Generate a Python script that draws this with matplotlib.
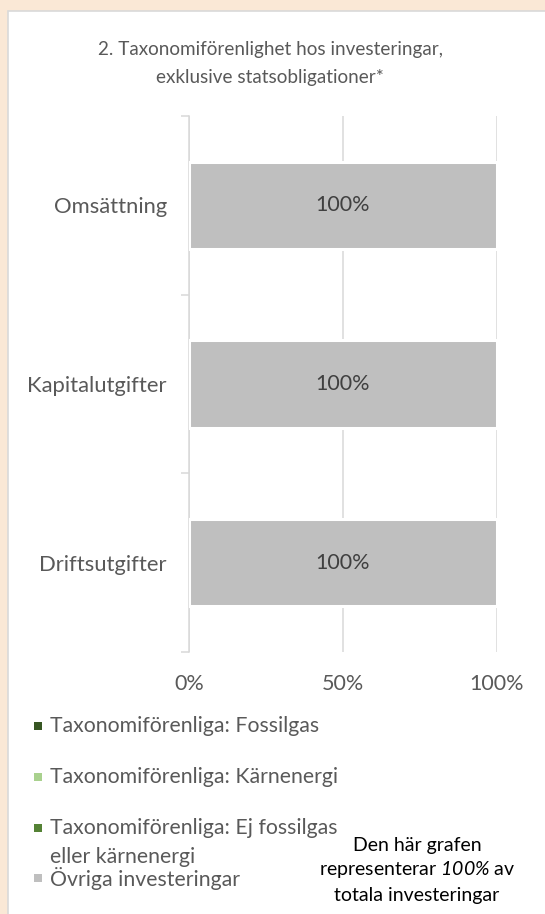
import matplotlib

matplotlib.use("Agg")
import matplotlib.pyplot as plt
from matplotlib.patches import Rectangle
import numpy as np

plt.rcParams["font.family"] = ["Lato", "DejaVu Sans"]
# the only math text is the italic "100%" in the note; digits there use the rm slot
plt.rcParams["mathtext.fontset"] = "custom"
plt.rcParams["mathtext.rm"] = "Lato:italic"

# data
categories = ["Omsättning", "Kapitalutgifter", "Driftsutgifter"]
series_names = [
    "Taxonomiförenliga: Fossilgas",
    "Taxonomiförenliga: Kärnenergi",
    "Taxonomiförenliga: Ej fossilgas\neller kärnenergi",
    "Övriga investeringar",
]
fossilgas = [0, 0, 0]
karnenergi = [0, 0, 0]
ej_fossil = [0, 0, 0]
ovriga = [100, 100, 100]
x_ticks = [0, 50, 100]
x_tick_labels = ["0%", "50%", "100%"]
title_lines = ["2. Taxonomiförenlighet hos investeringar,", "exklusive statsobligationer*"]
note_lines = ["Den här grafen", "representerar $\\mathrm{100\\%}$ av", "totala investeringar"]

COLORS = ["#375623", "#A9D18E", "#548235", "#BFBFBF"]
TEXT = "#595959"
GRID = "#D9D9D9"

W, H = 545, 914
fig = plt.figure(figsize=(W / 100, H / 100), dpi=100)
fig.patch.set_facecolor("#FAE8D6")


def fy(py):
    # pixel row from the top -> figure fraction
    return 1 - py / H


# white card
fig.add_artist(Rectangle((8 / W, -0.01), 1.0, fy(11) + 0.01, transform=fig.transFigure,
                         facecolor="white", edgecolor=GRID, linewidth=1.2, zorder=0))

ax = fig.add_axes([189 / W, fy(652), (497 - 189) / W, (652 - 116) / H])
ax.set_facecolor("none")

y = np.arange(len(categories))
left = np.zeros(len(categories))
for name, vals, col in zip(series_names, [fossilgas, karnenergi, ej_fossil, ovriga], COLORS):
    bars = ax.barh(y, vals, left=left, height=0.49, color=col, edgecolor="white",
                   linewidth=2.2, zorder=3)
    labels = [f"{v:.0f}%" if v > 0 else "" for v in vals]
    ax.bar_label(bars, labels=labels, label_type="center", color="#404040", fontsize=15.5)
    left = left + np.array(vals)

ax.set_xlim(0, 100)
ax.set_ylim(len(categories) - 0.5, -0.5)
ax.set_xticks(x_ticks)
ax.set_xticklabels(x_tick_labels)
ax.set_yticks(y)
ax.set_yticklabels(categories)
ax.set_yticks(np.arange(-0.5, len(categories)), minor=True)
ax.tick_params(axis="x", length=0, pad=16, labelsize=15.5, labelcolor=TEXT)
ax.tick_params(axis="y", which="major", length=0, pad=16, labelsize=15.8, labelcolor=TEXT)
ax.tick_params(axis="y", which="minor", length=6, color=GRID, width=1.1)
ax.grid(True, axis="x", color=GRID, linewidth=1.1, zorder=1)
for s in ("top", "right", "bottom"):
    ax.spines[s].set_visible(False)
ax.spines["left"].set_color(GRID)
ax.spines["left"].set_linewidth(1.1)

for i, line in enumerate(title_lines):
    fig.text(270 / W, fy(49 + 28 * i), line, ha="center", va="center", color=TEXT, fontsize=13.6)

# legend, drawn by hand to match the wrapped Excel layout
leg_y = [726, 777, 828, 878]
for name, col, yy in zip(series_names, COLORS, leg_y):
    fig.add_artist(Rectangle((34 / W, fy(yy + 4)), 8 / W, 8 / H, transform=fig.transFigure,
                             facecolor=col, edgecolor="none"))
    for i, line in enumerate(name.split("\n")):
        fig.text(50 / W, fy(yy + 29 * i), line, ha="left", va="center", color=TEXT, fontsize=15.3)

for i, line in enumerate(note_lines):
    fig.text(417 / W, fy(845 + 25 * i), line, ha="center", va="center", color="black", fontsize=14)

fig.savefig("out.png", dpi=100, facecolor=fig.get_facecolor())
